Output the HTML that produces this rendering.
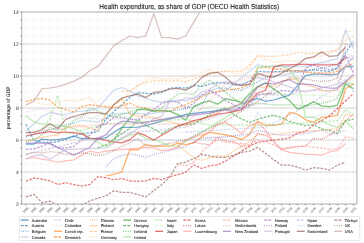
<!DOCTYPE html><html><head><meta charset="utf-8"><style>html,body{margin:0;padding:0;background:#fff;overflow:hidden}svg{display:block}.tx{will-change:transform}text{font-family:"Liberation Sans",sans-serif;text-rendering:geometricPrecision}</style></head><body>
<svg width="364" height="243" viewBox="0 0 364 243">
<rect width="364" height="243" fill="#fff"/>
<path d="M21.70 20.00H356.90M21.70 28.00H356.90M21.70 36.00H356.90M21.70 52.00H356.90M21.70 60.00H356.90M21.70 68.00H356.90M21.70 84.00H356.90M21.70 92.00H356.90M21.70 100.00H356.90M21.70 116.00H356.90M21.70 124.00H356.90M21.70 132.00H356.90M21.70 148.00H356.90M21.70 156.00H356.90M21.70 164.00H356.90M21.70 180.00H356.90M21.70 188.00H356.90M21.70 196.00H356.90M25.90 12.00V204.00M33.89 12.00V204.00M41.88 12.00V204.00M49.87 12.00V204.00M57.86 12.00V204.00M65.85 12.00V204.00M73.84 12.00V204.00M81.83 12.00V204.00M89.82 12.00V204.00M97.81 12.00V204.00M105.80 12.00V204.00M113.79 12.00V204.00M121.78 12.00V204.00M129.77 12.00V204.00M137.76 12.00V204.00M145.75 12.00V204.00M153.74 12.00V204.00M161.73 12.00V204.00M169.72 12.00V204.00M177.71 12.00V204.00M185.70 12.00V204.00M193.69 12.00V204.00M201.68 12.00V204.00M209.67 12.00V204.00M217.66 12.00V204.00M225.65 12.00V204.00M233.64 12.00V204.00M241.63 12.00V204.00M249.62 12.00V204.00M257.61 12.00V204.00M265.60 12.00V204.00M273.59 12.00V204.00M281.58 12.00V204.00M289.57 12.00V204.00M297.56 12.00V204.00M305.55 12.00V204.00M313.54 12.00V204.00M321.53 12.00V204.00M329.52 12.00V204.00M337.51 12.00V204.00M345.50 12.00V204.00M353.49 12.00V204.00" stroke="#f3f3f3" stroke-width="0.6" fill="none"/>
<path d="M21.70 172.00H356.90M21.70 140.00H356.90M21.70 108.00H356.90M21.70 76.00H356.90M21.70 44.00H356.90" stroke="#d6d6d6" stroke-width="1" fill="none"/>
<clipPath id="c"><rect x="21.7" y="12.0" width="335.2" height="192.0"/></clipPath><g clip-path="url(#c)" fill="none" stroke-linejoin="round">
<path d="M25.90 144.00 L33.89 144.00 L41.88 139.04 L49.87 140.00 L57.86 139.52 L65.85 138.40 L73.84 136.16 L81.83 138.72 L89.82 138.72 L97.81 138.56 L105.80 137.92 L113.79 132.32 L121.78 127.36 L129.77 127.36 L137.76 127.20 L145.75 125.60 L153.74 123.36 L161.73 121.12 L169.72 118.88 L177.71 116.64 L185.70 114.40 L193.69 113.44 L201.68 112.48 L209.67 111.52 L217.66 110.56 L225.65 109.60 L233.64 106.67 L241.63 103.73 L249.62 100.80 L257.61 98.40 L265.60 101.28 L273.59 100.00 L281.58 97.60 L289.57 95.20 L297.56 85.60 L305.55 75.68 L313.54 74.08 L321.53 74.08 L329.52 74.88 L337.51 74.08 L345.50 66.56 L353.49 66.40" stroke="#1f77b4" stroke-opacity="0.62" stroke-width="1.25"/>
<path d="M25.90 124.32 L33.89 140.32 L41.88 142.40 L49.87 142.40 L57.86 141.60 L65.85 139.52 L73.84 136.16 L81.83 133.60 L89.82 132.96 L97.81 131.68 L105.80 119.20 L113.79 111.52 L121.78 104.80 L129.77 97.44 L137.76 92.48 L145.75 93.28 L153.74 94.08 L161.73 92.48 L169.72 88.32 L177.71 87.52 L185.70 88.32 L193.69 85.44 L201.68 86.40 L209.67 84.00 L217.66 82.40 L225.65 83.20 L233.64 84.00 L241.63 84.80 L249.62 81.28 L257.61 71.20 L265.60 72.00 L273.59 71.74 L281.58 71.49 L289.57 71.23 L297.56 70.98 L305.55 70.72 L313.54 69.92 L321.53 70.72 L329.52 71.52 L337.51 68.16 L345.50 52.80 L353.49 40.80" stroke="#1f77b4" stroke-opacity="0.62" stroke-width="1.25" stroke-dasharray="2.5 1.3"/>
<path d="M25.90 136.80 L33.89 134.46 L41.88 132.13 L49.87 129.79 L57.86 127.46 L65.85 125.12 L73.84 122.88 L81.83 120.32 L89.82 121.28 L97.81 121.92 L105.80 118.24 L113.79 114.40 L121.78 113.28 L129.77 113.28 L137.76 113.28 L145.75 114.40 L153.74 113.28 L161.73 112.16 L169.72 111.04 L177.71 109.92 L185.70 108.80 L193.69 106.40 L201.68 104.80 L209.67 91.20 L217.66 88.00 L225.65 88.00 L233.64 89.92 L241.63 90.40 L249.62 86.13 L257.61 81.87 L265.60 77.60 L273.59 76.32 L281.58 75.04 L289.57 73.76 L297.56 72.48 L305.55 71.20 L313.54 69.60 L321.53 68.00 L329.52 66.40 L337.51 64.80 L345.50 56.80 L353.49 60.00" stroke="#1f77b4" stroke-opacity="0.62" stroke-width="1.25" stroke-dasharray="0.8 1.2"/>
<path d="M25.90 131.20 L33.89 124.00 L41.88 116.48 L49.87 112.64 L57.86 113.92 L65.85 114.40 L73.84 112.00 L81.83 111.20 L89.82 110.72 L97.81 108.00 L105.80 99.04 L113.79 90.08 L121.78 87.52 L129.77 90.88 L137.76 95.84 L145.75 98.24 L153.74 100.80 L161.73 102.40 L169.72 100.80 L177.71 100.00 L185.70 100.80 L193.69 98.40 L201.68 95.20 L209.67 93.60 L217.66 92.00 L225.65 90.40 L233.64 84.00 L241.63 77.60 L249.62 71.20 L257.61 64.80 L265.60 66.40 L273.59 66.40 L281.58 66.40 L289.57 66.40 L297.56 66.40 L305.55 66.40 L313.54 64.48 L321.53 62.56 L329.52 60.64 L337.51 58.72 L345.50 29.76 L353.49 48.80" stroke="#aec7e8" stroke-opacity="0.62" stroke-width="1.25"/>
<path d="M185.70 132.00 L193.69 131.52 L201.68 131.04 L209.67 130.56 L217.66 130.08 L225.65 129.60 L233.64 129.12 L241.63 128.64 L249.62 128.16 L257.61 127.68 L265.60 127.20 L273.59 123.04 L281.58 118.88 L289.57 114.72 L297.56 110.56 L305.55 106.40 L313.54 101.60 L321.53 96.80 L329.52 92.00 L337.51 87.20 L345.50 79.20 L353.49 92.00" stroke="#aec7e8" stroke-opacity="0.62" stroke-width="1.25" stroke-dasharray="2.5 1.3"/>
<path d="M129.77 140.00 L137.76 140.00 L145.75 140.00 L153.74 140.00 L161.73 140.00 L169.72 140.00 L177.71 140.00 L185.70 140.00 L193.69 139.40 L201.68 138.80 L209.67 138.20 L217.66 137.60 L225.65 137.00 L233.64 136.40 L241.63 135.80 L249.62 135.20 L257.61 111.52 L265.60 123.04 L273.59 125.60 L281.58 124.00 L289.57 122.40 L297.56 116.00 L305.55 117.60 L313.54 116.40 L321.53 115.20 L329.52 114.00 L337.51 112.80 L345.50 92.00" stroke="#aec7e8" stroke-opacity="0.62" stroke-width="1.25" stroke-dasharray="0.8 1.2"/>
<path d="M105.80 176.00 L113.79 174.40 L121.78 172.00 L129.77 149.60 L137.76 149.92 L145.75 144.32 L153.74 146.24 L161.73 146.24 L169.72 146.24 L177.71 143.20 L185.70 144.64 L193.69 142.88 L201.68 136.64 L209.67 132.32 L217.66 133.60 L225.65 134.88 L233.64 136.64 L241.63 139.68 L249.62 134.24 L257.61 121.28 L265.60 125.28 L273.59 125.28 L281.58 124.00 L289.57 112.32 L297.56 114.08 L305.55 119.84 L313.54 122.40 L321.53 117.44 L329.52 116.64 L337.51 115.04 L345.50 88.80 L353.49 84.00" stroke="#ff7f0e" stroke-opacity="0.62" stroke-width="1.25"/>
<path d="M25.90 101.60 L33.89 99.52 L41.88 98.40 L49.87 100.32 L57.86 107.20 L65.85 109.60 L73.84 112.00 L81.83 106.56 L89.82 104.64 L97.81 105.92 L105.80 106.56 L113.79 108.16 L121.78 105.60 L129.77 103.20 L137.76 106.56 L145.75 108.16 L153.74 110.56 L161.73 111.20 L169.72 111.84 L177.71 107.36 L185.70 104.80 L193.69 100.64 L201.68 97.28 L209.67 92.96 L217.66 91.68 L225.65 89.92 L233.64 89.28 L241.63 88.00 L249.62 84.00 L257.61 68.00 L265.60 67.20 L273.59 68.80 L281.58 69.60 L289.57 70.56 L297.56 70.56 L305.55 72.32 L313.54 72.80 L321.53 73.12 L329.52 73.12 L337.51 71.20 L345.50 66.56 L353.49 63.36" stroke="#ff7f0e" stroke-opacity="0.62" stroke-width="1.25" stroke-dasharray="2.5 1.3"/>
<path d="M177.71 144.80 L185.70 151.68 L193.69 157.60 L201.68 160.32 L209.67 157.92 L217.66 156.00 L225.65 156.00 L233.64 151.20 L241.63 146.40 L249.62 141.60 L257.61 133.60 L265.60 135.20 L273.59 134.40 L281.58 133.60 L289.57 132.80 L297.56 132.00 L305.55 131.20 L313.54 130.80 L321.53 130.40 L329.52 129.60 L337.51 128.80 L345.50 114.08 L353.49 115.84" stroke="#ff7f0e" stroke-opacity="0.62" stroke-width="1.25" stroke-dasharray="0.8 1.2"/>
<path d="M25.90 140.96 L33.89 139.20 L41.88 137.28 L49.87 136.00 L57.86 134.88 L65.85 127.36 L73.84 126.24 L81.83 125.60 L89.82 128.00 L97.81 130.40 L105.80 114.40 L113.79 104.80 L121.78 98.40 L129.77 114.40 L137.76 116.00 L145.75 116.00 L153.74 117.92 L161.73 119.84 L169.72 121.76 L177.71 123.68 L185.70 125.60 L193.69 122.40 L201.68 119.20 L209.67 116.00 L217.66 112.80 L225.65 109.60 L233.64 106.40 L241.63 103.20 L249.62 100.00 L257.61 87.20 L265.60 87.20 L273.59 85.92 L281.58 81.60 L289.57 79.04 L297.56 79.68 L305.55 84.80 L313.54 86.56 L321.53 90.40 L329.52 91.20 L337.51 89.60 L345.50 82.40 L353.49 76.80" stroke="#ffbb78" stroke-opacity="0.62" stroke-width="1.25"/>
<path d="M121.78 91.20 L129.77 91.20 L137.76 85.60 L145.75 82.40 L153.74 80.96 L161.73 80.96 L169.72 80.96 L177.71 80.96 L185.70 81.76 L193.69 79.20 L201.68 76.00 L209.67 74.40 L217.66 72.00 L225.65 71.20 L233.64 71.20 L241.63 71.20 L249.62 64.80 L257.61 55.68 L265.60 56.48 L273.59 56.48 L281.58 55.68 L289.57 54.88 L297.56 52.32 L305.55 53.60 L313.54 53.20 L321.53 52.80 L329.52 51.60 L337.51 50.40 L345.50 40.48 L353.49 36.32" stroke="#ffbb78" stroke-opacity="0.62" stroke-width="1.25" stroke-dasharray="2.5 1.3"/>
<path d="M25.90 104.64 L33.89 101.60 L41.88 104.00 L49.87 104.64 L57.86 102.72 L65.85 100.32 L73.84 101.60 L81.83 99.68 L89.82 97.28 L97.81 105.92 L105.80 106.40 L113.79 104.80 L121.78 100.48 L129.77 91.36 L137.76 85.76 L145.75 80.00 L153.74 77.60 L161.73 79.36 L169.72 78.40 L177.71 79.36 L185.70 77.60 L193.69 76.00 L201.68 72.80 L209.67 69.60 L217.66 72.80 L225.65 71.20 L233.64 72.80 L241.63 74.40 L249.62 68.00 L257.61 55.68 L265.60 59.04 L273.59 62.24 L281.58 61.44 L289.57 60.64 L297.56 61.44 L305.55 58.40 L313.54 57.60 L321.53 56.00 L329.52 53.60 L337.51 48.80 L345.50 31.36 L353.49 31.36" stroke="#ffbb78" stroke-opacity="0.62" stroke-width="1.25" stroke-dasharray="0.8 1.2"/>
<path d="M113.79 140.00 L121.78 128.48 L129.77 118.08 L137.76 109.60 L145.75 108.80 L153.74 111.20 L161.73 110.40 L169.72 111.20 L177.71 114.56 L185.70 120.32 L193.69 106.56 L201.68 102.88 L209.67 100.96 L217.66 104.16 L225.65 98.56 L233.64 100.48 L241.63 102.24 L249.62 93.60 L257.61 86.56 L265.60 82.72 L273.59 88.96 L281.58 94.56 L289.57 100.80 L297.56 109.12 L305.55 105.92 L313.54 101.76 L321.53 105.92 L329.52 106.72 L337.51 105.12 L345.50 84.00 L353.49 88.80" stroke="#2ca02c" stroke-opacity="0.62" stroke-width="1.25"/>
<path d="M97.81 148.00 L105.80 144.80 L113.79 139.20 L121.78 133.60 L129.77 128.64 L137.76 120.00 L145.75 125.60 L153.74 128.80 L161.73 133.60 L169.72 128.80 L177.71 126.40 L185.70 124.00 L193.69 124.00 L201.68 119.31 L209.67 114.61 L217.66 109.92 L225.65 108.00 L233.64 114.40 L241.63 119.20 L249.62 122.40 L257.61 119.36 L265.60 116.96 L273.59 115.36 L281.58 117.60 L289.57 121.44 L297.56 124.00 L305.55 125.60 L313.54 124.80 L321.53 128.80 L329.52 130.40 L337.51 133.60 L345.50 120.80 L353.49 119.20" stroke="#2ca02c" stroke-opacity="0.62" stroke-width="1.25" stroke-dasharray="2.5 1.3"/>
<path d="M25.90 141.60 L33.89 140.00 L41.88 134.88 L49.87 127.36 L57.86 130.40 L65.85 128.80 L73.84 120.32 L81.83 116.96 L89.82 108.32 L97.81 110.88 L105.80 114.56 L113.79 116.96 L121.78 114.40 L129.77 112.00 L137.76 109.60 L145.75 110.24 L153.74 111.20 L161.73 108.00 L169.72 100.48 L177.71 93.92 L185.70 93.28 L193.69 94.56 L201.68 84.80 L209.67 80.16 L217.66 86.24 L225.65 92.32 L233.64 98.40 L241.63 103.52 L249.62 104.80 L257.61 103.20 L265.60 104.00 L273.59 104.80 L281.58 104.80 L289.57 104.80 L297.56 104.80 L305.55 106.40 L313.54 104.80 L321.53 103.20 L329.52 101.60 L337.51 98.40 L345.50 82.40 L353.49 84.00" stroke="#2ca02c" stroke-opacity="0.62" stroke-width="1.25" stroke-dasharray="0.8 1.2"/>
<path d="M25.90 115.84 L33.89 121.92 L41.88 123.84 L49.87 124.48 L57.86 125.60 L65.85 126.40 L73.84 128.80 L81.83 132.00 L89.82 137.92 L97.81 142.24 L105.80 146.40 L113.79 141.60 L121.78 138.40 L129.77 135.20 L137.76 133.92 L145.75 138.24 L153.74 140.00 L161.73 142.56 L169.72 145.60 L177.71 146.40 L185.70 141.60 L193.69 136.80 L201.68 132.00 L209.67 127.20 L217.66 122.40 L225.65 117.60 L233.64 111.73 L241.63 105.87 L249.62 100.00 L257.61 67.36 L265.60 66.40 L273.59 66.40 L281.58 65.60 L289.57 69.76 L297.56 80.48 L305.55 117.44 L313.54 117.44 L321.53 120.80 L329.52 124.80 L337.51 127.36 L345.50 120.80 L353.49 128.96" stroke="#98df8a" stroke-opacity="0.62" stroke-width="1.25"/>
<path d="M41.88 128.80 L49.87 119.20 L57.86 95.20 L65.85 133.60 L73.84 132.00 L81.83 130.00 L89.82 128.00 L97.81 126.00 L105.80 124.00 L113.79 123.52 L121.78 123.04 L129.77 122.56 L137.76 122.08 L145.75 121.60 L153.74 121.12 L161.73 120.64 L169.72 120.16 L177.71 119.68 L185.70 119.20 L193.69 121.33 L201.68 123.47 L209.67 125.60 L217.66 125.20 L225.65 124.80 L233.64 124.96 L241.63 125.12 L249.62 125.28 L257.61 125.44 L265.60 125.60 L273.59 124.80 L281.58 124.30 L289.57 123.80 L297.56 123.30 L305.55 122.80 L313.54 122.30 L321.53 121.80 L329.52 121.30 L337.51 120.80 L345.50 109.60 L353.49 114.40" stroke="#98df8a" stroke-opacity="0.62" stroke-width="1.25" stroke-dasharray="2.5 1.3"/>
<path d="M89.82 119.20 L97.81 116.00 L105.80 112.80 L113.79 114.72 L121.78 116.64 L129.77 118.56 L137.76 120.48 L145.75 122.40 L153.74 120.80 L161.73 119.20 L169.72 117.60 L177.71 116.00 L185.70 114.40 L193.69 111.84 L201.68 109.28 L209.67 106.72 L217.66 104.16 L225.65 101.60 L233.64 100.00 L241.63 98.40 L249.62 96.80 L257.61 95.20 L265.60 93.60 L273.59 93.92 L281.58 94.24 L289.57 94.56 L297.56 94.88 L305.55 95.20 L313.54 95.20 L321.53 95.20 L329.52 96.80 L337.51 96.00 L345.50 82.40 L353.49 80.80" stroke="#98df8a" stroke-opacity="0.62" stroke-width="1.25" stroke-dasharray="0.8 1.2"/>
<path d="M25.90 136.00 L33.89 134.24 L41.88 132.96 L49.87 131.68 L57.86 132.96 L65.85 132.00 L73.84 132.96 L81.83 133.92 L89.82 138.40 L97.81 138.56 L105.80 140.48 L113.79 142.24 L121.78 142.88 L129.77 139.84 L137.76 132.64 L145.75 135.68 L153.74 140.00 L161.73 135.20 L169.72 130.72 L177.71 125.92 L185.70 123.68 L193.69 120.64 L201.68 118.88 L209.67 116.48 L217.66 114.08 L225.65 113.12 L233.64 111.52 L241.63 109.92 L249.62 101.60 L257.61 93.28 L265.60 90.24 L273.59 67.20 L281.58 64.80 L289.57 64.80 L297.56 64.48 L305.55 64.48 L313.54 64.80 L321.53 64.80 L329.52 64.80 L337.51 64.48 L345.50 57.76" stroke="#d62728" stroke-opacity="0.62" stroke-width="1.25"/>
<path d="M25.90 181.28 L33.89 177.92 L41.88 179.20 L49.87 180.80 L57.86 184.48 L65.85 182.72 L73.84 184.48 L81.83 186.08 L89.82 184.48 L97.81 176.64 L105.80 177.76 L113.79 179.68 L121.78 178.40 L129.77 180.96 L137.76 181.44 L145.75 180.96 L153.74 178.40 L161.73 179.68 L169.72 176.64 L177.71 174.72 L185.70 172.16 L193.69 164.80 L201.68 168.48 L209.67 165.92 L217.66 164.80 L225.65 160.96 L233.64 156.00 L241.63 151.20 L249.62 146.24 L257.61 142.40 L265.60 141.28 L273.59 140.00 L281.58 139.20 L289.57 137.92 L297.56 132.96 L305.55 131.52 L313.54 124.80 L321.53 120.80 L329.52 115.84 L337.51 108.32 L345.50 100.96 L353.49 93.60" stroke="#d62728" stroke-opacity="0.62" stroke-width="1.25" stroke-dasharray="2.5 1.3"/>
<path d="M193.69 142.08 L201.68 143.68 L209.67 144.80 L217.66 137.28 L225.65 140.96 L233.64 141.60 L241.63 146.40 L249.62 145.92 L257.61 133.60 L265.60 135.20 L273.59 141.60 L281.58 149.60 L289.57 148.00 L297.56 146.40 L305.55 146.40 L313.54 138.40 L321.53 139.20 L329.52 135.20 L337.51 130.40 L345.50 120.80 L353.49 114.40" stroke="#d62728" stroke-opacity="0.62" stroke-width="1.25" stroke-dasharray="0.8 1.2"/>
<path d="M25.90 158.56 L33.89 157.28 L41.88 159.20 L49.87 160.48 L57.86 162.24 L65.85 160.96 L73.84 159.84 L81.83 154.88 L89.82 151.20 L97.81 152.96 L105.80 151.20 L113.79 150.46 L121.78 149.73 L129.77 148.99 L137.76 148.26 L145.75 147.52 L153.74 148.00 L161.73 150.56 L169.72 149.60 L177.71 147.20 L185.70 140.00 L193.69 137.33 L201.68 134.67 L209.67 132.00 L217.66 124.00 L225.65 122.40 L233.64 127.20 L241.63 133.60 L249.62 125.60 L257.61 122.40 L265.60 130.40 L273.59 141.60 L281.58 149.60 L289.57 152.32 L297.56 153.44 L305.55 154.40 L313.54 154.40 L321.53 155.20 L329.52 152.00 L337.51 150.40 L345.50 143.52" stroke="#ff9896" stroke-opacity="0.62" stroke-width="1.25"/>
<path d="M177.71 164.80 L185.70 165.60 L193.69 162.40 L201.68 152.00 L209.67 144.80 L217.66 140.00 L225.65 142.24 L233.64 142.88 L241.63 143.52 L249.62 144.80 L257.61 140.00 L265.60 141.60 L273.59 144.96 L281.58 148.64 L289.57 147.36 L297.56 146.56 L305.55 145.76 L313.54 147.20 L321.53 148.00 L329.52 149.60 L337.51 148.80 L345.50 136.80 L353.49 138.40" stroke="#ff9896" stroke-opacity="0.62" stroke-width="1.25" stroke-dasharray="2.5 1.3"/>
<path d="M25.90 132.00 L33.89 131.20 L41.88 130.40 L49.87 129.60 L57.86 128.80 L65.85 128.00 L73.84 127.20 L81.83 126.40 L89.82 125.60 L97.81 124.80 L105.80 124.00 L113.79 124.00 L121.78 124.00 L129.77 124.00 L137.76 124.00 L145.75 124.00 L153.74 124.00 L161.73 124.00 L169.72 124.00 L177.71 124.00 L185.70 124.00 L193.69 116.00 L201.68 108.00 L209.67 100.00 L217.66 92.00 L225.65 84.00 L233.64 81.76 L241.63 79.52 L249.62 77.28 L257.61 75.04 L265.60 72.80 L273.59 72.48 L281.58 72.16 L289.57 71.84 L297.56 71.52 L305.55 71.20 L313.54 72.00 L321.53 72.80 L329.52 73.60 L337.51 74.40 L345.50 58.40 L353.49 55.20" stroke="#ff9896" stroke-opacity="0.62" stroke-width="1.25" stroke-dasharray="0.8 1.2"/>
<path d="M25.90 143.20 L33.89 143.20 L41.88 143.20 L49.87 143.68 L57.86 147.68 L65.85 151.20 L73.84 155.20 L81.83 151.20 L89.82 147.20 L97.81 138.56 L105.80 134.88 L113.79 126.24 L121.78 121.28 L129.77 121.28 L137.76 123.20 L145.75 122.40 L153.74 120.80 L161.73 119.60 L169.72 118.40 L177.71 117.20 L185.70 116.00 L193.69 114.93 L201.68 113.87 L209.67 112.80 L217.66 111.20 L225.65 109.60 L233.64 110.40 L241.63 108.00 L249.62 96.80 L257.61 87.20 L265.60 83.04 L273.59 84.00 L281.58 81.28 L289.57 79.68 L297.56 84.00 L305.55 84.00 L313.54 84.80 L321.53 87.20 L329.52 88.00 L337.51 88.00 L345.50 81.44 L353.49 74.40" stroke="#9467bd" stroke-opacity="0.62" stroke-width="1.25"/>
<path d="M25.90 149.28 L33.89 148.96 L41.88 146.24 L49.87 143.04 L57.86 147.68 L65.85 148.00 L73.84 146.40 L81.83 139.20 L89.82 135.20 L97.81 126.40 L105.80 124.00 L113.79 116.96 L121.78 117.60 L129.77 119.20 L137.76 120.00 L145.75 114.40 L153.74 109.60 L161.73 103.20 L169.72 101.28 L177.71 101.92 L185.70 108.00 L193.69 103.20 L201.68 95.20 L209.67 90.40 L217.66 94.88 L225.65 100.48 L233.64 104.80 L241.63 108.80 L249.62 104.80 L257.61 95.20 L265.60 93.60 L273.59 93.60 L281.58 90.40 L289.57 91.20 L297.56 90.40 L305.55 68.00 L313.54 64.96 L321.53 68.00 L329.52 69.92 L337.51 68.00 L345.50 55.20 L353.49 72.80" stroke="#9467bd" stroke-opacity="0.62" stroke-width="1.25" stroke-dasharray="2.5 1.3"/>
<path d="M105.80 167.20 L113.79 158.72 L121.78 155.52 L129.77 153.76 L137.76 155.04 L145.75 157.60 L153.74 154.40 L161.73 152.80 L169.72 150.67 L177.71 148.53 L185.70 146.40 L193.69 142.16 L201.68 137.92 L209.67 137.55 L217.66 137.17 L225.65 136.80 L233.64 135.73 L241.63 134.67 L249.62 133.60 L257.61 130.56 L265.60 132.00 L273.59 134.40 L281.58 135.20 L289.57 135.20 L297.56 134.40 L305.55 133.44 L313.54 131.84 L321.53 130.08 L329.52 134.24 L337.51 133.60 L345.50 130.08" stroke="#9467bd" stroke-opacity="0.62" stroke-width="1.25" stroke-dasharray="0.8 1.2"/>
<path d="M25.90 159.20 L33.89 155.52 L41.88 154.88 L49.87 159.20 L57.86 154.24 L65.85 149.28 L73.84 149.02 L81.83 148.77 L89.82 148.51 L97.81 148.26 L105.80 148.00 L113.79 143.20 L121.78 138.40 L129.77 133.60 L137.76 128.80 L145.75 124.00 L153.74 119.20 L161.73 116.00 L169.72 101.60 L177.71 101.60 L185.70 98.24 L193.69 98.24 L201.68 92.00 L209.67 89.28 L217.66 84.00 L225.65 81.60 L233.64 82.88 L241.63 85.60 L249.62 80.80 L257.61 77.60 L265.60 79.20 L273.59 81.76 L281.58 84.32 L289.57 86.88 L297.56 89.44 L305.55 92.00 L313.54 90.00 L321.53 88.00 L329.52 86.00 L337.51 84.00 L345.50 66.40 L353.49 56.80" stroke="#c5b0d5" stroke-opacity="0.62" stroke-width="1.25"/>
<path d="M25.90 154.40 L33.89 152.48 L41.88 150.56 L49.87 148.64 L57.86 146.72 L65.85 144.80 L73.84 142.88 L81.83 140.96 L89.82 139.04 L97.81 137.12 L105.80 135.20 L113.79 134.40 L121.78 133.60 L129.77 132.80 L137.76 132.00 L145.75 131.20 L153.74 130.40 L161.73 129.60 L169.72 128.80 L177.71 128.00 L185.70 127.20 L193.69 124.32 L201.68 121.44 L209.67 118.56 L217.66 115.68 L225.65 112.80 L233.64 107.60 L241.63 102.40 L249.62 97.20 L257.61 92.00 L265.60 94.40 L273.59 95.20 L281.58 95.20 L289.57 94.40 L297.56 92.40 L305.55 90.40 L313.54 90.40 L321.53 90.40 L329.52 90.40 L337.51 90.40 L345.50 64.80 L353.49 71.20" stroke="#c5b0d5" stroke-opacity="0.62" stroke-width="1.25" stroke-dasharray="2.5 1.3"/>
<path d="M25.90 112.00 L33.89 110.24 L41.88 108.96 L49.87 110.88 L57.86 114.56 L65.85 117.12 L73.84 117.54 L81.83 117.95 L89.82 118.37 L97.81 118.78 L105.80 119.20 L113.79 119.04 L121.78 118.88 L129.77 118.72 L137.76 118.56 L145.75 118.40 L153.74 118.24 L161.73 118.08 L169.72 117.92 L177.71 117.76 L185.70 117.60 L193.69 116.16 L201.68 114.72 L209.67 113.28 L217.66 111.84 L225.65 110.40 L233.64 108.96 L241.63 107.52 L249.62 106.08 L257.61 104.64 L265.60 103.20 L273.59 69.60 L281.58 68.00 L289.57 66.40 L297.56 64.80 L305.55 63.20 L313.54 63.20 L321.53 63.20 L329.52 63.20 L337.51 63.20 L345.50 53.60 L353.49 56.80" stroke="#c5b0d5" stroke-opacity="0.62" stroke-width="1.25" stroke-dasharray="0.8 1.2"/>
<path d="M25.90 132.96 L33.89 132.32 L41.88 129.76 L49.87 123.68 L57.86 128.48 L65.85 119.36 L73.84 116.48 L81.83 114.40 L89.82 112.64 L97.81 112.64 L105.80 114.08 L113.79 104.80 L121.78 98.08 L129.77 95.84 L137.76 94.08 L145.75 97.44 L153.74 92.48 L161.73 91.68 L169.72 89.12 L177.71 88.32 L185.70 90.08 L193.69 85.92 L201.68 77.60 L209.67 73.12 L217.66 72.32 L225.65 77.28 L233.64 84.64 L241.63 85.44 L249.62 84.48 L257.61 73.28 L265.60 75.84 L273.59 77.12 L281.58 73.28 L289.57 68.80 L297.56 64.80 L305.55 58.40 L313.54 56.96 L321.53 52.00 L329.52 56.48 L337.51 55.68 L345.50 47.20" stroke="#8c564b" stroke-opacity="0.62" stroke-width="1.25"/>
<path d="M25.90 196.96 L33.89 194.40 L41.88 202.56 L49.87 201.12 L57.86 205.60 L65.85 207.20 L73.84 207.20 L81.83 205.60 L89.82 200.80 L97.81 198.24 L105.80 196.00 L113.79 190.72 L121.78 192.48 L129.77 192.48 L137.76 194.40 L145.75 196.96 L153.74 190.72 L161.73 184.64 L169.72 177.12 L177.71 163.52 L185.70 162.24 L193.69 158.56 L201.68 154.40 L209.67 156.00 L217.66 157.28 L225.65 157.28 L233.64 155.36 L241.63 152.32 L249.62 151.20 L257.61 147.36 L265.60 153.44 L273.59 159.68 L281.58 165.12 L289.57 165.12 L297.56 167.04 L305.55 170.08 L313.54 167.68 L321.53 168.32 L329.52 170.08 L337.51 165.12 L345.50 162.08" stroke="#8c564b" stroke-opacity="0.62" stroke-width="1.25" stroke-dasharray="2.5 1.3"/>
<path d="M25.90 154.24 L33.89 152.32 L41.88 152.96 L49.87 151.68 L57.86 152.32 L65.85 154.24 L73.84 154.24 L81.83 152.96 L89.82 153.60 L97.81 155.52 L105.80 154.24 L113.79 150.40 L121.78 146.56 L129.77 142.72 L137.76 138.88 L145.75 145.60 L153.74 146.40 L161.73 144.80 L169.72 143.20 L177.71 141.60 L185.70 140.00 L193.69 136.16 L201.68 132.32 L209.67 128.48 L217.66 124.64 L225.65 120.80 L233.64 116.00 L241.63 111.20 L249.62 106.40 L257.61 101.60 L265.60 95.60 L273.59 89.60 L281.58 83.60 L289.57 77.60 L297.56 78.32 L305.55 79.04 L313.54 80.64 L321.53 81.44 L329.52 80.80 L337.51 78.08 L345.50 44.00 L353.49 45.60" stroke="#8c564b" stroke-opacity="0.62" stroke-width="1.25" stroke-dasharray="0.8 1.2"/>
<path d="M25.90 105.28 L33.89 100.96 L41.88 88.80 L49.87 88.00 L57.86 86.72 L65.85 84.16 L73.84 81.12 L81.83 77.44 L89.82 70.56 L97.81 66.40 L105.80 56.32 L113.79 45.60 L121.78 40.80 L129.77 36.00 L137.76 37.60 L145.75 36.00 L153.74 13.60 L161.73 37.60 L169.72 37.60 L177.71 39.20 L185.70 36.00 L193.69 22.40 L201.68 8.80 L209.67 -4.00 L217.66 -8.00 L225.65 -12.00 L233.64 -14.88 L241.63 -17.76 L249.62 -20.64 L257.61 -23.52 L265.60 -26.40 L273.59 -27.36 L281.58 -28.32 L289.57 -29.28 L297.56 -30.24 L305.55 -31.20 L313.54 -31.20 L321.53 -31.20 L329.52 -31.20 L337.51 -31.20 L345.50 -64.80 L353.49 -48.80" stroke="#c49c94" stroke-opacity="0.62" stroke-width="1.25"/>
</g>
<rect x="21.7" y="12.0" width="335.20" height="192.00" fill="none" stroke="#ababab" stroke-width="1"/>
<path d="M20.10 12.00H21.70M20.70 20.00H21.70M20.70 28.00H21.70M20.70 36.00H21.70M20.10 44.00H21.70M20.70 52.00H21.70M20.70 60.00H21.70M20.70 68.00H21.70M20.10 76.00H21.70M20.70 84.00H21.70M20.70 92.00H21.70M20.70 100.00H21.70M20.10 108.00H21.70M20.70 116.00H21.70M20.70 124.00H21.70M20.70 132.00H21.70M20.10 140.00H21.70M20.70 148.00H21.70M20.70 156.00H21.70M20.70 164.00H21.70M20.10 172.00H21.70M20.70 180.00H21.70M20.70 188.00H21.70M20.70 196.00H21.70M20.10 204.00H21.70M25.90 204.00V205.40M33.89 204.00V205.40M41.88 204.00V205.40M49.87 204.00V205.40M57.86 204.00V205.40M65.85 204.00V205.40M73.84 204.00V205.40M81.83 204.00V205.40M89.82 204.00V205.40M97.81 204.00V205.40M105.80 204.00V205.40M113.79 204.00V205.40M121.78 204.00V205.40M129.77 204.00V205.40M137.76 204.00V205.40M145.75 204.00V205.40M153.74 204.00V205.40M161.73 204.00V205.40M169.72 204.00V205.40M177.71 204.00V205.40M185.70 204.00V205.40M193.69 204.00V205.40M201.68 204.00V205.40M209.67 204.00V205.40M217.66 204.00V205.40M225.65 204.00V205.40M233.64 204.00V205.40M241.63 204.00V205.40M249.62 204.00V205.40M257.61 204.00V205.40M265.60 204.00V205.40M273.59 204.00V205.40M281.58 204.00V205.40M289.57 204.00V205.40M297.56 204.00V205.40M305.55 204.00V205.40M313.54 204.00V205.40M321.53 204.00V205.40M329.52 204.00V205.40M337.51 204.00V205.40M345.50 204.00V205.40M353.49 204.00V205.40" stroke="#555" stroke-width="0.6" fill="none"/>
<rect x="19.3" y="216.5" width="340.4" height="24.2" rx="1.2" fill="#fff" stroke="#dcdcdc" stroke-width="0.7"/>
<path d="M20.80 220.10H28.70" stroke="#1f77b4" stroke-opacity="0.7" stroke-width="1.3"/>
<path d="M20.80 225.70H28.70" stroke="#1f77b4" stroke-opacity="0.7" stroke-width="1.3" stroke-dasharray="2.9 1.2"/>
<path d="M20.80 231.30H28.70" stroke="#1f77b4" stroke-opacity="0.7" stroke-width="1.3" stroke-dasharray="0.8 1.5"/>
<path d="M20.80 237.00H28.70" stroke="#aec7e8" stroke-opacity="0.7" stroke-width="1.3"/>
<path d="M54.10 220.10H62.00" stroke="#aec7e8" stroke-opacity="0.7" stroke-width="1.3" stroke-dasharray="2.9 1.2"/>
<path d="M54.10 225.70H62.00" stroke="#aec7e8" stroke-opacity="0.7" stroke-width="1.3" stroke-dasharray="0.8 1.5"/>
<path d="M54.10 231.30H62.00" stroke="#ff7f0e" stroke-opacity="0.7" stroke-width="1.3"/>
<path d="M54.10 237.00H62.00" stroke="#ff7f0e" stroke-opacity="0.7" stroke-width="1.3" stroke-dasharray="2.9 1.2"/>
<path d="M89.80 220.10H97.70" stroke="#ff7f0e" stroke-opacity="0.7" stroke-width="1.3" stroke-dasharray="0.8 1.5"/>
<path d="M89.80 225.70H97.70" stroke="#ffbb78" stroke-opacity="0.7" stroke-width="1.3"/>
<path d="M89.80 231.30H97.70" stroke="#ffbb78" stroke-opacity="0.7" stroke-width="1.3" stroke-dasharray="2.9 1.2"/>
<path d="M89.80 237.00H97.70" stroke="#ffbb78" stroke-opacity="0.7" stroke-width="1.3" stroke-dasharray="0.8 1.5"/>
<path d="M123.20 220.10H131.10" stroke="#2ca02c" stroke-opacity="0.7" stroke-width="1.3"/>
<path d="M123.20 225.70H131.10" stroke="#2ca02c" stroke-opacity="0.7" stroke-width="1.3" stroke-dasharray="2.9 1.2"/>
<path d="M123.20 231.30H131.10" stroke="#2ca02c" stroke-opacity="0.7" stroke-width="1.3" stroke-dasharray="0.8 1.5"/>
<path d="M123.20 237.00H131.10" stroke="#98df8a" stroke-opacity="0.7" stroke-width="1.3"/>
<path d="M155.20 220.10H163.10" stroke="#98df8a" stroke-opacity="0.7" stroke-width="1.3" stroke-dasharray="2.9 1.2"/>
<path d="M155.20 225.70H163.10" stroke="#98df8a" stroke-opacity="0.7" stroke-width="1.3" stroke-dasharray="0.8 1.5"/>
<path d="M155.20 231.30H163.10" stroke="#d62728" stroke-opacity="0.7" stroke-width="1.3"/>
<path d="M183.40 220.10H191.30" stroke="#d62728" stroke-opacity="0.7" stroke-width="1.3" stroke-dasharray="2.9 1.2"/>
<path d="M183.40 225.70H191.30" stroke="#d62728" stroke-opacity="0.7" stroke-width="1.3" stroke-dasharray="0.8 1.5"/>
<path d="M183.40 231.30H191.30" stroke="#ff9896" stroke-opacity="0.7" stroke-width="1.3"/>
<path d="M223.00 220.10H230.90" stroke="#ff9896" stroke-opacity="0.7" stroke-width="1.3" stroke-dasharray="2.9 1.2"/>
<path d="M223.00 225.70H230.90" stroke="#ff9896" stroke-opacity="0.7" stroke-width="1.3" stroke-dasharray="0.8 1.5"/>
<path d="M223.00 231.30H230.90" stroke="#9467bd" stroke-opacity="0.7" stroke-width="1.3"/>
<path d="M264.20 220.10H272.10" stroke="#9467bd" stroke-opacity="0.7" stroke-width="1.3" stroke-dasharray="2.9 1.2"/>
<path d="M264.20 225.70H272.10" stroke="#9467bd" stroke-opacity="0.7" stroke-width="1.3" stroke-dasharray="0.8 1.5"/>
<path d="M264.20 231.30H272.10" stroke="#c5b0d5" stroke-opacity="0.7" stroke-width="1.3"/>
<path d="M296.80 220.10H304.70" stroke="#c5b0d5" stroke-opacity="0.7" stroke-width="1.3" stroke-dasharray="2.9 1.2"/>
<path d="M296.80 225.70H304.70" stroke="#c5b0d5" stroke-opacity="0.7" stroke-width="1.3" stroke-dasharray="0.8 1.5"/>
<path d="M296.80 231.30H304.70" stroke="#8c564b" stroke-opacity="0.7" stroke-width="1.3"/>
<path d="M334.30 220.10H342.20" stroke="#8c564b" stroke-opacity="0.7" stroke-width="1.3" stroke-dasharray="2.9 1.2"/>
<path d="M334.30 225.70H342.20" stroke="#8c564b" stroke-opacity="0.7" stroke-width="1.3" stroke-dasharray="0.8 1.5"/>
<path d="M334.30 231.30H342.20" stroke="#c49c94" stroke-opacity="0.7" stroke-width="1.3"/>
<g style="filter:grayscale(1)">
<text x="18.8" y="205.75" font-size="5.0" text-anchor="end" fill="#262626">2</text>
<text x="18.8" y="173.75" font-size="5.0" text-anchor="end" fill="#262626">4</text>
<text x="18.8" y="141.75" font-size="5.0" text-anchor="end" fill="#262626">6</text>
<text x="18.8" y="109.75" font-size="5.0" text-anchor="end" fill="#262626">8</text>
<text x="18.8" y="77.75" font-size="5.0" text-anchor="end" fill="#262626">10</text>
<text x="18.8" y="45.75" font-size="5.0" text-anchor="end" fill="#262626">12</text>
<text x="18.8" y="13.75" font-size="5.0" text-anchor="end" fill="#262626">14</text>
<text transform="translate(28.90 208.20) rotate(-45)" font-size="3.05" text-anchor="end" fill="#4a4a4a">1980</text>
<text transform="translate(36.89 208.20) rotate(-45)" font-size="3.05" text-anchor="end" fill="#4a4a4a">1981</text>
<text transform="translate(44.88 208.20) rotate(-45)" font-size="3.05" text-anchor="end" fill="#4a4a4a">1982</text>
<text transform="translate(52.87 208.20) rotate(-45)" font-size="3.05" text-anchor="end" fill="#4a4a4a">1983</text>
<text transform="translate(60.86 208.20) rotate(-45)" font-size="3.05" text-anchor="end" fill="#4a4a4a">1984</text>
<text transform="translate(68.85 208.20) rotate(-45)" font-size="3.05" text-anchor="end" fill="#4a4a4a">1985</text>
<text transform="translate(76.84 208.20) rotate(-45)" font-size="3.05" text-anchor="end" fill="#4a4a4a">1986</text>
<text transform="translate(84.83 208.20) rotate(-45)" font-size="3.05" text-anchor="end" fill="#4a4a4a">1987</text>
<text transform="translate(92.82 208.20) rotate(-45)" font-size="3.05" text-anchor="end" fill="#4a4a4a">1988</text>
<text transform="translate(100.81 208.20) rotate(-45)" font-size="3.05" text-anchor="end" fill="#4a4a4a">1989</text>
<text transform="translate(108.80 208.20) rotate(-45)" font-size="3.05" text-anchor="end" fill="#4a4a4a">1990</text>
<text transform="translate(116.79 208.20) rotate(-45)" font-size="3.05" text-anchor="end" fill="#4a4a4a">1991</text>
<text transform="translate(124.78 208.20) rotate(-45)" font-size="3.05" text-anchor="end" fill="#4a4a4a">1992</text>
<text transform="translate(132.77 208.20) rotate(-45)" font-size="3.05" text-anchor="end" fill="#4a4a4a">1993</text>
<text transform="translate(140.76 208.20) rotate(-45)" font-size="3.05" text-anchor="end" fill="#4a4a4a">1994</text>
<text transform="translate(148.75 208.20) rotate(-45)" font-size="3.05" text-anchor="end" fill="#4a4a4a">1995</text>
<text transform="translate(156.74 208.20) rotate(-45)" font-size="3.05" text-anchor="end" fill="#4a4a4a">1996</text>
<text transform="translate(164.73 208.20) rotate(-45)" font-size="3.05" text-anchor="end" fill="#4a4a4a">1997</text>
<text transform="translate(172.72 208.20) rotate(-45)" font-size="3.05" text-anchor="end" fill="#4a4a4a">1998</text>
<text transform="translate(180.71 208.20) rotate(-45)" font-size="3.05" text-anchor="end" fill="#4a4a4a">1999</text>
<text transform="translate(188.70 208.20) rotate(-45)" font-size="3.05" text-anchor="end" fill="#4a4a4a">2000</text>
<text transform="translate(196.69 208.20) rotate(-45)" font-size="3.05" text-anchor="end" fill="#4a4a4a">2001</text>
<text transform="translate(204.68 208.20) rotate(-45)" font-size="3.05" text-anchor="end" fill="#4a4a4a">2002</text>
<text transform="translate(212.67 208.20) rotate(-45)" font-size="3.05" text-anchor="end" fill="#4a4a4a">2003</text>
<text transform="translate(220.66 208.20) rotate(-45)" font-size="3.05" text-anchor="end" fill="#4a4a4a">2004</text>
<text transform="translate(228.65 208.20) rotate(-45)" font-size="3.05" text-anchor="end" fill="#4a4a4a">2005</text>
<text transform="translate(236.64 208.20) rotate(-45)" font-size="3.05" text-anchor="end" fill="#4a4a4a">2006</text>
<text transform="translate(244.63 208.20) rotate(-45)" font-size="3.05" text-anchor="end" fill="#4a4a4a">2007</text>
<text transform="translate(252.62 208.20) rotate(-45)" font-size="3.05" text-anchor="end" fill="#4a4a4a">2008</text>
<text transform="translate(260.61 208.20) rotate(-45)" font-size="3.05" text-anchor="end" fill="#4a4a4a">2009</text>
<text transform="translate(268.60 208.20) rotate(-45)" font-size="3.05" text-anchor="end" fill="#4a4a4a">2010</text>
<text transform="translate(276.59 208.20) rotate(-45)" font-size="3.05" text-anchor="end" fill="#4a4a4a">2011</text>
<text transform="translate(284.58 208.20) rotate(-45)" font-size="3.05" text-anchor="end" fill="#4a4a4a">2012</text>
<text transform="translate(292.57 208.20) rotate(-45)" font-size="3.05" text-anchor="end" fill="#4a4a4a">2013</text>
<text transform="translate(300.56 208.20) rotate(-45)" font-size="3.05" text-anchor="end" fill="#4a4a4a">2014</text>
<text transform="translate(308.55 208.20) rotate(-45)" font-size="3.05" text-anchor="end" fill="#4a4a4a">2015</text>
<text transform="translate(316.54 208.20) rotate(-45)" font-size="3.05" text-anchor="end" fill="#4a4a4a">2016</text>
<text transform="translate(324.53 208.20) rotate(-45)" font-size="3.05" text-anchor="end" fill="#4a4a4a">2017</text>
<text transform="translate(332.52 208.20) rotate(-45)" font-size="3.05" text-anchor="end" fill="#4a4a4a">2018</text>
<text transform="translate(340.51 208.20) rotate(-45)" font-size="3.05" text-anchor="end" fill="#4a4a4a">2019</text>
<text transform="translate(348.50 208.20) rotate(-45)" font-size="3.05" text-anchor="end" fill="#4a4a4a">2020</text>
<text transform="translate(356.49 208.20) rotate(-45)" font-size="3.05" text-anchor="end" fill="#4a4a4a">2021</text>
<text transform="translate(189.3 9.4) scale(1 1.12)" font-size="6.52" text-anchor="middle" fill="#1e1e1e" stroke="#1e1e1e" stroke-width="0.1">Health expenditure, as share of GDP (OECD Health Statistics)</text>
<text transform="translate(9.9 107.8) rotate(-90)" font-size="5.0" text-anchor="middle" fill="#262626" stroke="#262626" stroke-width="0.08">percentage of GDP</text>
<text transform="translate(31.80 221.85) scale(1 1.0)" font-size="3.9" fill="#333" stroke="#333" stroke-width="0.12">Australia</text>
<text transform="translate(31.80 227.45) scale(1 1.0)" font-size="3.9" fill="#333" stroke="#333" stroke-width="0.12">Austria</text>
<text transform="translate(31.80 233.05) scale(1 1.0)" font-size="3.9" fill="#333" stroke="#333" stroke-width="0.12">Belgium</text>
<text transform="translate(31.80 238.75) scale(1 1.0)" font-size="3.9" fill="#333" stroke="#333" stroke-width="0.12">Canada</text>
<text transform="translate(64.80 221.85) scale(1 1.0)" font-size="3.9" fill="#333" stroke="#333" stroke-width="0.12">Chile</text>
<text transform="translate(64.80 227.45) scale(1 1.0)" font-size="3.9" fill="#333" stroke="#333" stroke-width="0.12">Colombia</text>
<text transform="translate(64.80 233.05) scale(1 1.0)" font-size="3.9" fill="#333" stroke="#333" stroke-width="0.12">Czech rep.</text>
<text transform="translate(64.80 238.75) scale(1 1.0)" font-size="3.9" fill="#333" stroke="#333" stroke-width="0.12">Denmark</text>
<text transform="translate(100.90 221.85) scale(1 1.0)" font-size="3.9" fill="#333" stroke="#333" stroke-width="0.12">Estonia</text>
<text transform="translate(100.90 227.45) scale(1 1.0)" font-size="3.9" fill="#333" stroke="#333" stroke-width="0.12">Finland</text>
<text transform="translate(100.90 233.05) scale(1 1.0)" font-size="3.9" fill="#333" stroke="#333" stroke-width="0.12">France</text>
<text transform="translate(100.90 238.75) scale(1 1.0)" font-size="3.9" fill="#333" stroke="#333" stroke-width="0.12">Germany</text>
<text transform="translate(134.30 221.85) scale(1 1.0)" font-size="3.9" fill="#333" stroke="#333" stroke-width="0.12">Greece</text>
<text transform="translate(134.30 227.45) scale(1 1.0)" font-size="3.9" fill="#333" stroke="#333" stroke-width="0.12">Hungary</text>
<text transform="translate(134.30 233.05) scale(1 1.0)" font-size="3.9" fill="#333" stroke="#333" stroke-width="0.12">Iceland</text>
<text transform="translate(134.30 238.75) scale(1 1.0)" font-size="3.9" fill="#333" stroke="#333" stroke-width="0.12">Ireland</text>
<text transform="translate(166.80 221.85) scale(1 1.0)" font-size="3.9" fill="#333" stroke="#333" stroke-width="0.12">Israel</text>
<text transform="translate(166.80 227.45) scale(1 1.0)" font-size="3.9" fill="#333" stroke="#333" stroke-width="0.12">Italy</text>
<text transform="translate(166.80 233.05) scale(1 1.0)" font-size="3.9" fill="#333" stroke="#333" stroke-width="0.12">Japan</text>
<text transform="translate(195.00 221.85) scale(1 1.0)" font-size="3.9" fill="#333" stroke="#333" stroke-width="0.12">Korea</text>
<text transform="translate(195.00 227.45) scale(1 1.0)" font-size="3.9" fill="#333" stroke="#333" stroke-width="0.12">Latvia</text>
<text transform="translate(195.00 233.05) scale(1 1.0)" font-size="3.9" fill="#333" stroke="#333" stroke-width="0.12">Luxembourg</text>
<text transform="translate(235.30 221.85) scale(1 1.0)" font-size="3.9" fill="#333" stroke="#333" stroke-width="0.12">Mexico</text>
<text transform="translate(235.30 227.45) scale(1 1.0)" font-size="3.9" fill="#333" stroke="#333" stroke-width="0.12">Netherlands</text>
<text transform="translate(235.30 233.05) scale(1 1.0)" font-size="3.9" fill="#333" stroke="#333" stroke-width="0.12">New Zealand</text>
<text transform="translate(275.10 221.85) scale(1 1.0)" font-size="3.9" fill="#333" stroke="#333" stroke-width="0.12">Norway</text>
<text transform="translate(275.10 227.45) scale(1 1.0)" font-size="3.9" fill="#333" stroke="#333" stroke-width="0.12">Poland</text>
<text transform="translate(275.10 233.05) scale(1 1.0)" font-size="3.9" fill="#333" stroke="#333" stroke-width="0.12">Portugal</text>
<text transform="translate(307.30 221.85) scale(1 1.0)" font-size="3.9" fill="#333" stroke="#333" stroke-width="0.12">Spain</text>
<text transform="translate(307.30 227.45) scale(1 1.0)" font-size="3.9" fill="#333" stroke="#333" stroke-width="0.12">Sweden</text>
<text transform="translate(307.30 233.05) scale(1 1.0)" font-size="3.9" fill="#333" stroke="#333" stroke-width="0.12">Switzerland</text>
<text transform="translate(344.80 221.85) scale(1 1.0)" font-size="3.9" fill="#333" stroke="#333" stroke-width="0.12">Türkiye</text>
<text transform="translate(344.80 227.45) scale(1 1.0)" font-size="3.9" fill="#333" stroke="#333" stroke-width="0.12">UK</text>
<text transform="translate(344.80 233.05) scale(1 1.0)" font-size="3.9" fill="#333" stroke="#333" stroke-width="0.12">USA</text>
</g></svg></body></html>
